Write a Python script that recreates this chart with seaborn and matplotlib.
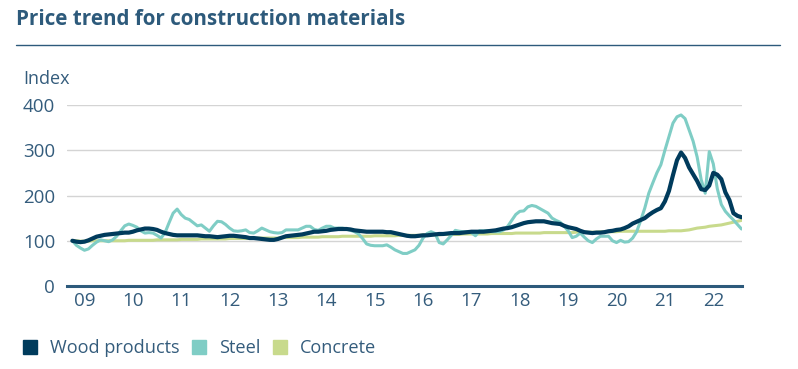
import numpy as np
import pandas as pd
import matplotlib
matplotlib.use("Agg")
import matplotlib.pyplot as plt
from matplotlib.lines import Line2D
import seaborn as sns

title = "Price trend for construction materials"
y_label = "Index"
series_names = ["Wood products", "Steel", "Concrete"]
year_labels = ["09", "10", "11", "12", "13", "14", "15", "16", "17", "18", "19", "20", "21", "22"]
start_month = "2008-10-01"

wood = [
    100, 98, 97, 98, 101, 105, 109, 111, 113, 114, 115, 116,
    117, 118, 118, 120, 123, 125, 127, 127, 126, 124, 120, 117,
    115, 113, 112, 112, 112, 112, 112, 112, 111, 110, 110, 109,
    108, 109, 110, 111, 111, 110, 109, 108, 106, 106, 105, 104,
    103, 102, 102, 104, 107, 110, 111, 112, 113, 114, 116, 118,
    120, 120, 121, 122, 124, 125, 126, 126, 126, 125, 123, 122,
    121, 120, 120, 120, 120, 120, 119, 119, 117, 115, 113, 111,
    110, 110, 111, 112, 112, 113, 114, 115, 115, 116, 117, 117,
    117, 118, 119, 120, 120, 120, 120, 121, 122, 123, 125, 127,
    128, 130, 133, 136, 139, 141, 142, 143, 143, 143, 141, 139,
    138, 137, 133, 130, 128, 126, 122, 119, 118, 117, 118, 118,
    119, 121, 122, 124, 125, 128, 132, 138, 142, 146, 150, 157,
    163, 168, 172, 187, 210, 245, 278, 295, 283, 262, 247, 232,
    214, 212, 222, 250, 246, 236, 207, 190, 161, 155, 152,
]

steel = [
    100, 90, 84, 79, 82, 90, 97, 102, 100, 98, 102, 110,
    122, 133, 137, 134, 130, 122, 117, 118, 117, 112, 106, 118,
    140, 161, 170, 158, 150, 147, 140, 133, 135, 128, 121, 133,
    143, 142, 136, 128, 122, 121, 122, 124, 118, 117, 122, 128,
    124, 120, 118, 117, 118, 124, 124, 124, 124, 128, 132, 132,
    125, 123, 128, 132, 132, 128, 128, 128, 126, 123, 120, 115,
    105, 93, 90, 89, 89, 89, 91, 86, 80, 76, 72, 72,
    76, 80, 90, 106, 116, 120, 116, 96, 93, 102, 112, 123,
    121, 120, 120, 118, 111, 122, 122, 122, 120, 120, 120, 124,
    132, 145, 158, 165, 166, 175, 178, 176, 171, 166, 161, 150,
    145, 141, 132, 122, 107, 110, 117, 108, 100, 96, 104, 110,
    110, 110, 100, 96, 101, 97, 98, 106, 120, 145, 172, 205,
    228, 250, 268, 300, 330, 360, 374, 378, 370, 345, 320, 285,
    235, 205, 297, 270, 215, 180, 165, 155, 146, 136, 126,
]

concrete = [
    100, 100, 99, 99, 99, 100, 100, 100, 100, 100, 100, 100,
    100, 100, 101, 101, 101, 101, 101, 101, 101, 102, 102, 102,
    102, 102, 102, 103, 103, 103, 103, 103, 104, 104, 104, 104,
    104, 104, 104, 105, 105, 105, 105, 105, 105, 105, 106, 106,
    106, 106, 106, 106, 107, 107, 107, 107, 107, 108, 108, 108,
    108, 108, 109, 109, 109, 109, 109, 110, 110, 110, 110, 110,
    110, 110, 110, 111, 111, 111, 111, 111, 111, 112, 112, 112,
    112, 112, 112, 113, 113, 113, 113, 113, 114, 114, 114, 114,
    114, 115, 115, 115, 115, 115, 115, 115, 116, 116, 116, 116,
    116, 116, 117, 117, 117, 117, 117, 117, 117, 118, 118, 118,
    118, 118, 118, 118, 118, 119, 119, 119, 119, 119, 119, 120,
    120, 120, 120, 120, 121, 121, 121, 121, 121, 121, 121, 121,
    121, 121, 121, 121, 122, 122, 122, 122, 123, 124, 126, 128,
    129, 130, 132, 133, 134, 135, 137, 139, 141, 143, 145,
]

colors = ["#003b5c", "#7fcdc5", "#c8da8c"]
widths = [3.0, 2.2, 2.2]
text_color = "#345c7c"

n = len(wood)
dates = pd.date_range(start_month, periods=n, freq="MS")
xpos = dates.year + (dates.month - 1) / 12.0
df = pd.DataFrame({"x": np.tile(xpos, 3),
                   "value": wood + steel + concrete,
                   "series": np.repeat(series_names, n)})

sns.set_theme(style="white")
plt.rcParams["font.family"] = ["Open Sans", "DejaVu Sans"]

fig = plt.figure(figsize=(7.98, 3.69), dpi=100)
ax = fig.add_axes([0.084, 0.2249, 0.8458, 0.4905])

draw_order = ["Concrete", "Steel", "Wood products"]
for name in draw_order:
    i = series_names.index(name)
    sns.lineplot(data=df[df["series"] == name], x="x", y="value", ax=ax,
                 color=colors[i], linewidth=widths[i], legend=False,
                 solid_capstyle="round", solid_joinstyle="round")

ax.set_ylim(0, 400)
ax.set_yticks([0, 100, 200, 300, 400])
ax.set_xlim(xpos[0] - 0.11, xpos[-1] + 0.01)
years = [2009 + k for k in range(len(year_labels))]
ax.set_xticks(years)
ax.set_xticklabels(year_labels)
ax.set_xlabel("")
ax.set_ylabel("")
ax.grid(axis="y", color="#d4d4d4", linewidth=1.0)
ax.grid(axis="x", visible=False)
ax.set_axisbelow(True)
for s in ["top", "right", "left"]:
    ax.spines[s].set_visible(False)
ax.spines["bottom"].set_color("#2d5a7b")
ax.spines["bottom"].set_linewidth(2.2)
ax.tick_params(axis="both", length=0, labelsize=13.5, labelcolor=text_color)
ax.tick_params(axis="y", pad=8.5)
ax.tick_params(axis="x", pad=4)

fig.text(0.02, 0.948, title, fontsize=14.9, fontweight="bold", color="#2d5a7b",
         ha="left", va="center")
fig.add_artist(Line2D([0.02, 0.978], [0.878, 0.878], transform=fig.transFigure,
                      color="#2d5a7b", linewidth=1.0))
fig.text(0.029, 0.785, y_label, fontsize=13, color=text_color, ha="left", va="center")

handles = [Line2D([], [], linestyle="none", marker="s", markersize=10,
                  markerfacecolor=c, markeredgecolor=c) for c in colors]
fig.legend(handles, series_names, loc="center left", bbox_to_anchor=(0.006, 0.057),
           ncol=3, frameon=False, fontsize=13.1, labelcolor=text_color,
           handletextpad=0.6, columnspacing=0.55, handlelength=1.0)

fig.savefig("out.png", dpi=100)
